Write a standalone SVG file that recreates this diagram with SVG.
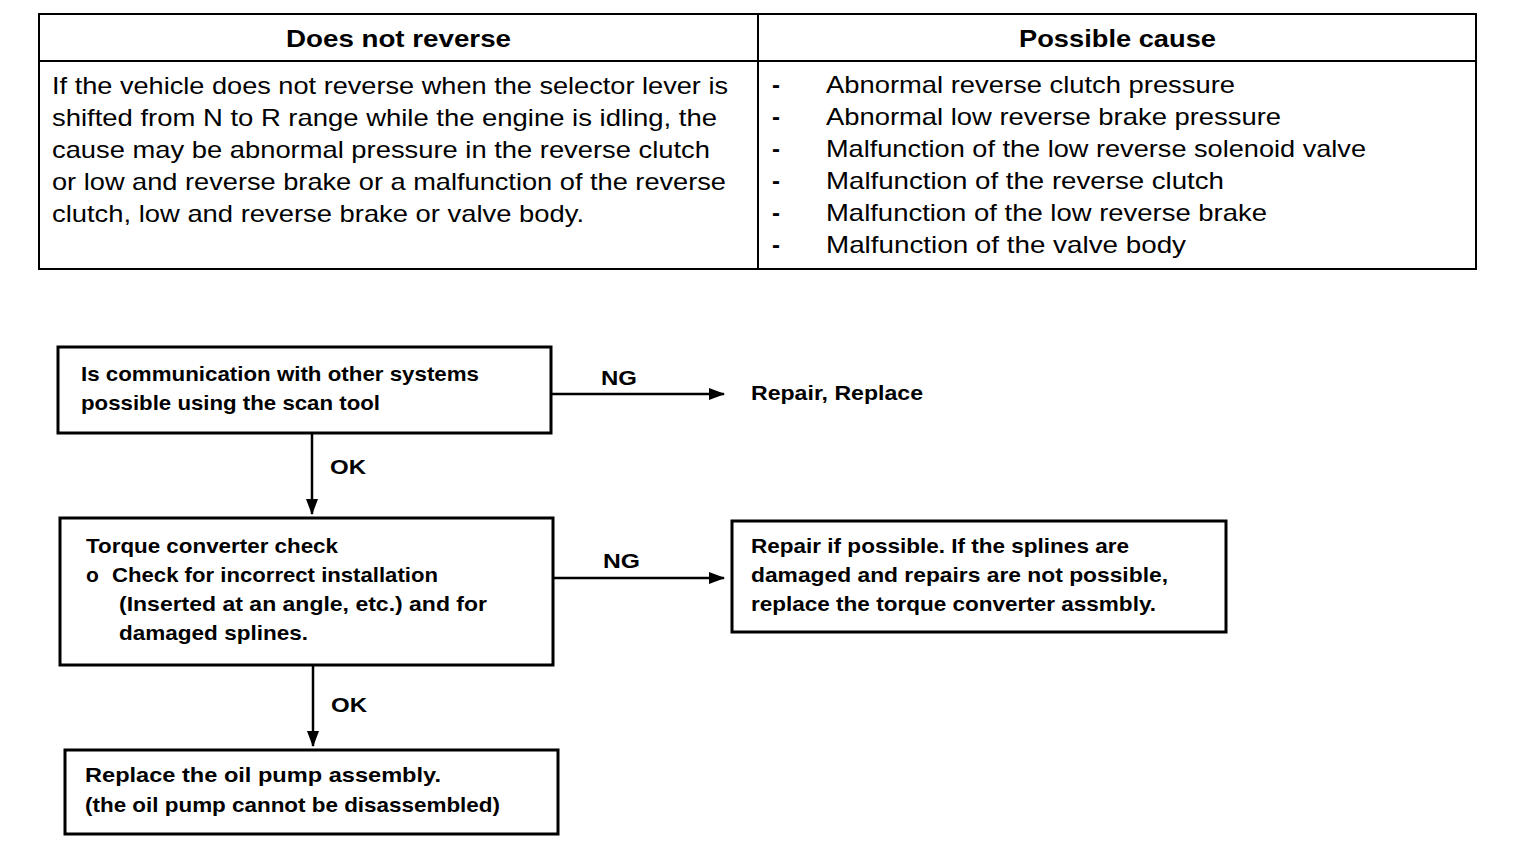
<svg xmlns="http://www.w3.org/2000/svg" width="1536" height="856" viewBox="0 0 1536 856">
<defs>
<style>
text{font-family:"Liberation Sans",Arial,sans-serif;fill:#000}
.h{font-size:24px;font-weight:bold}
.t{font-size:24px}
.d{font-size:24px;font-weight:bold}
.f{font-size:21px;font-weight:bold}
.box{fill:#fff;stroke:#000;stroke-width:3}
.ln{stroke:#000;stroke-width:2.5;fill:none}
</style>
<marker id="ah" markerWidth="16" markerHeight="12" refX="15" refY="6" orient="auto" markerUnits="userSpaceOnUse" viewBox="0 0 16 12">
<path d="M0,0 L16,6 L0,12 Z" fill="#000"/>
</marker>
</defs>
<rect width="1536" height="856" fill="#fff"/>
<g id="table">
<rect x="39" y="14" width="1437" height="255" fill="none" stroke="#000" stroke-width="2"/>
<line x1="39" y1="61" x2="1476" y2="61" stroke="#000" stroke-width="2"/>
<line x1="758" y1="14" x2="758" y2="269" stroke="#000" stroke-width="2"/>
<text class="h" x="286" y="47" textLength="225" lengthAdjust="spacingAndGlyphs">Does not reverse</text>
<text class="h" x="1019" y="47" textLength="197" lengthAdjust="spacingAndGlyphs">Possible cause</text>
<text class="t" x="52" y="94" textLength="676" lengthAdjust="spacingAndGlyphs">If the vehicle does not reverse when the selector lever is</text>
<text class="t" x="52" y="126" textLength="665" lengthAdjust="spacingAndGlyphs">shifted from N to R range while the engine is idling, the</text>
<text class="t" x="52" y="158" textLength="658" lengthAdjust="spacingAndGlyphs">cause may be abnormal pressure in the reverse clutch</text>
<text class="t" x="52" y="190" textLength="674" lengthAdjust="spacingAndGlyphs">or low and reverse brake or a malfunction of the reverse</text>
<text class="t" x="52" y="222" textLength="532" lengthAdjust="spacingAndGlyphs">clutch, low and reverse brake or valve body.</text>
<text class="d" x="772" y="93">-</text>
<text class="d" x="772" y="125">-</text>
<text class="d" x="772" y="157">-</text>
<text class="d" x="772" y="189">-</text>
<text class="d" x="772" y="221">-</text>
<text class="d" x="772" y="253">-</text>
<text class="t" x="826" y="93" textLength="409" lengthAdjust="spacingAndGlyphs">Abnormal reverse clutch pressure</text>
<text class="t" x="826" y="125" textLength="455" lengthAdjust="spacingAndGlyphs">Abnormal low reverse brake pressure</text>
<text class="t" x="826" y="157" textLength="540" lengthAdjust="spacingAndGlyphs">Malfunction of the low reverse solenoid valve</text>
<text class="t" x="826" y="189" textLength="398" lengthAdjust="spacingAndGlyphs">Malfunction of the reverse clutch</text>
<text class="t" x="826" y="221" textLength="441" lengthAdjust="spacingAndGlyphs">Malfunction of the low reverse brake</text>
<text class="t" x="826" y="253" textLength="360" lengthAdjust="spacingAndGlyphs">Malfunction of the valve body</text>
</g>
<g id="connectors">
<line class="ln" x1="551" y1="394" x2="724" y2="394" marker-end="url(#ah)"/>
<line class="ln" x1="312" y1="433" x2="312" y2="514" marker-end="url(#ah)"/>
<line class="ln" x1="553" y1="578" x2="724" y2="578" marker-end="url(#ah)"/>
<line class="ln" x1="313" y1="665" x2="313" y2="746" marker-end="url(#ah)"/>
<text class="f" x="601" y="385" textLength="36" lengthAdjust="spacingAndGlyphs">NG</text>
<text class="f" x="330" y="474" textLength="36" lengthAdjust="spacingAndGlyphs">OK</text>
<text class="f" x="603" y="568" textLength="37" lengthAdjust="spacingAndGlyphs">NG</text>
<text class="f" x="331" y="712" textLength="36" lengthAdjust="spacingAndGlyphs">OK</text>
</g>
<g id="n1">
<rect class="box" x="58" y="347" width="493" height="86"/>
<text class="f" x="81" y="381" textLength="398" lengthAdjust="spacingAndGlyphs">Is communication with other systems</text>
<text class="f" x="81" y="410" textLength="299" lengthAdjust="spacingAndGlyphs">possible using the scan tool</text>
</g>
<g id="n2">
<text class="f" x="751" y="400" textLength="172" lengthAdjust="spacingAndGlyphs">Repair, Replace</text>
</g>
<g id="n3">
<rect class="box" x="60" y="518" width="493" height="147"/>
<text class="f" x="86" y="553" textLength="252" lengthAdjust="spacingAndGlyphs">Torque converter check</text>
<text class="f" x="86" y="582">o</text>
<text class="f" x="112" y="582" textLength="326" lengthAdjust="spacingAndGlyphs">Check for incorrect installation</text>
<text class="f" x="119" y="611" textLength="368" lengthAdjust="spacingAndGlyphs">(Inserted at an angle, etc.) and for</text>
<text class="f" x="119" y="640" textLength="189" lengthAdjust="spacingAndGlyphs">damaged splines.</text>
</g>
<g id="n4">
<rect class="box" x="732" y="521" width="494" height="111"/>
<text class="f" x="751" y="553" textLength="378" lengthAdjust="spacingAndGlyphs">Repair if possible. If the splines are</text>
<text class="f" x="751" y="582" textLength="417" lengthAdjust="spacingAndGlyphs">damaged and repairs are not possible,</text>
<text class="f" x="751" y="611" textLength="405" lengthAdjust="spacingAndGlyphs">replace the torque converter assmbly.</text>
</g>
<g id="n5">
<rect class="box" x="65" y="750" width="493" height="84"/>
<text class="f" x="85" y="782" textLength="356" lengthAdjust="spacingAndGlyphs">Replace the oil pump assembly.</text>
<text class="f" x="85" y="812" textLength="415" lengthAdjust="spacingAndGlyphs">(the oil pump cannot be disassembled)</text>
</g>
</svg>
